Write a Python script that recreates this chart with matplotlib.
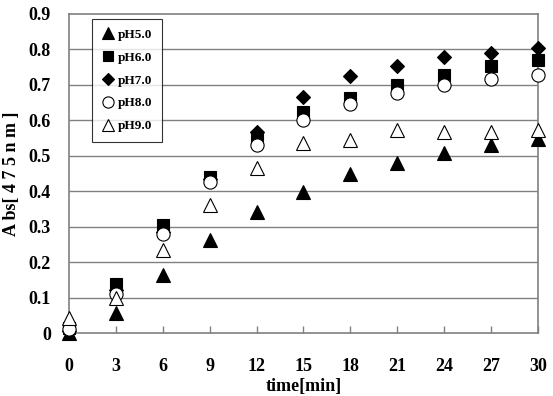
import matplotlib
matplotlib.use('Agg')
import matplotlib.pyplot as plt

plt.rcParams['font.family'] = ['Liberation Serif', 'DejaVu Serif']
plt.rcParams['font.weight'] = 'bold'

# time points [min]
time = [0, 3, 6, 9, 12, 15, 18, 21, 24, 27, 30]

# absorbance at 475 nm
ph50 = [0.0, 0.057, 0.164, 0.262, 0.34, 0.398, 0.448, 0.48, 0.508, 0.531, 0.547]
ph60 = [0.015, 0.139, 0.305, 0.44, 0.548, 0.624, 0.662, 0.70, 0.729, 0.752, 0.771]
ph70 = [0.005, 0.12, 0.285, 0.435, 0.567, 0.665, 0.724, 0.754, 0.778, 0.789, 0.803]
ph80 = [0.01, 0.11, 0.28, 0.425, 0.53, 0.60, 0.647, 0.677, 0.70, 0.717, 0.729]
ph90 = [0.042, 0.099, 0.234, 0.361, 0.466, 0.535, 0.545, 0.573, 0.568, 0.568, 0.573]

labels = ['pH5.0', 'pH6.0', 'pH7.0', 'pH8.0', 'pH9.0']
series = [ph50, ph60, ph70, ph80, ph90]
markers = ['^', 's', 'D', 'o', '^']
faces = ['black', 'black', 'black', 'white', 'white']
sizes = [9.5, 9, 7.5, 9.5, 9.5]

fig = plt.figure(figsize=(5.53, 3.96), dpi=100)
ax = fig.add_axes([0.1248, 0.159, 0.848, 0.806])

for y in [0.1, 0.2, 0.3, 0.4, 0.5, 0.6, 0.7, 0.8]:
    ax.axhline(y, color='#808080', linewidth=1.0, zorder=0)

for vals, lab, m, fc, ms in zip(series, labels, markers, faces, sizes):
    ax.plot(time, vals, linestyle='none', marker=m, markersize=ms,
            markerfacecolor=fc, markeredgecolor='black', markeredgewidth=0.8,
            label=lab, clip_on=False, zorder=3)

ax.set_xlim(0, 30)
ax.set_ylim(0, 0.9)
ax.set_xticks(time)
ax.set_xticklabels([str(t) for t in time])
ax.set_yticks([0, 0.1, 0.2, 0.3, 0.4, 0.5, 0.6, 0.7, 0.8, 0.9])
ax.set_yticklabels(['0', '0.1', '0.2', '0.3', '0.4', '0.5', '0.6', '0.7', '0.8', '0.9'])
ax.tick_params(axis='x', direction='in', length=5, width=1, color='#808080',
               pad=18, labelsize=13)
ax.tick_params(axis='y', length=0, pad=13, labelsize=13)

for s in ax.spines.values():
    s.set_color('#808080')
    s.set_linewidth(1.2)

ax.set_xlabel('time[min]', fontsize=13, fontweight='bold', labelpad=2)
ax.set_ylabel('A bs[ 4 7 5 n m ]', fontsize=13, fontweight='bold', labelpad=6)

leg = ax.legend(loc='upper left', bbox_to_anchor=(0.049, 0.984), fontsize=9.5,
                frameon=True, fancybox=False, handlelength=0.9, handletextpad=0.3,
                labelspacing=0.8, borderpad=0.75, borderaxespad=0, markerscale=0.85)
leg.get_frame().set_edgecolor('black')
leg.get_frame().set_linewidth(0.8)

plt.savefig('out.png', dpi=100)
plt.close()
